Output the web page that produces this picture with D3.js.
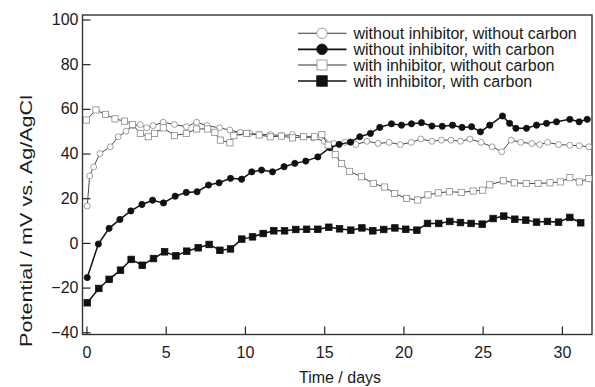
<!DOCTYPE html>
<html>
<head>
<meta charset="utf-8">
<script src="https://cdn.jsdelivr.net/npm/d3@7"></script>
<style>
  html, body { margin: 0; padding: 0; background: #fff; }
  svg text { font-family: "Liberation Sans", Arial, Helvetica, sans-serif; fill: #1a1a1a; }
</style>
</head>
<body>
<svg id="chart" width="595" height="387"></svg>
<script>
// Open-circuit potential over time for four test conditions
const seriesNames = [
  "without inhibitor, without carbon",
  "without inhibitor, with carbon",
  "with inhibitor, without carbon",
  "with inhibitor, with carbon"
];

// [day, potential mV]
const noInhNoCarbon = [
  [0.05,16.5],[0.2,30],[0.45,34],[0.85,40],[1.5,43],[2.0,47.5],[2.5,50],[2.95,52.5],
  [3.4,53],[3.8,51.5],[4.2,52.5],[4.85,54],[5.55,53],[6.3,52],[6.95,54],[7.6,52.5],
  [8.4,51.5],[9.05,50.5],[9.7,49.5],[10.3,49],[10.9,48.5],[11.6,48.5],[12.3,48],
  [13.0,48.5],[13.7,47.5],[14.3,47],[15.0,45.5],[15.6,44.5],[16.3,45],[17.0,44],
  [17.7,45.5],[18.4,44.5],[19.1,45],[19.8,44],[20.5,45],[21.1,46.5],[21.8,45.5],
  [22.4,46],[23.0,46],[23.6,45.5],[24.2,46.5],[24.9,45],[25.6,43],[26.2,40.8],
  [26.8,46],[27.4,45],[28.1,44.5],[28.6,44],[29.1,45],[29.8,44],[30.5,43.7],
  [31.1,43.5],[31.7,43]
];
const noInhCarbon = [
  [0.05,-15.5],[0.75,-0.5],[1.43,6.5],[2.11,10.5],[2.8,14.3],[3.5,17.2],[4.17,19.1],
  [4.86,17.9],[5.6,20.9],[6.3,22.6],[6.98,22.9],[7.7,25.9],[8.37,26.9],[9.09,28.9],
  [9.79,28.5],[10.43,31.8],[11.05,32.6],[11.74,31.8],[12.47,34.1],[13.15,35.6],
  [13.84,36.6],[14.6,38.5],[15.36,42.6],[15.94,44.1],[16.66,45.1],[17.25,47.5],
  [17.92,49.0],[18.51,51.7],[19.25,53.3],[19.88,52.7],[20.51,53.3],[21.14,53.8],
  [21.8,52.3],[22.45,52.2],[23.1,52.7],[23.7,51.7],[24.3,52.0],[24.86,49.7],
  [25.45,52.7],[26.25,56.8],[26.7,53.5],[27.1,51.3],[27.77,51.3],[28.4,52.7],
  [29.03,53.5],[29.66,54.2],[30.5,55.3],[31.09,54.2],[31.6,55.3]
];
const inhNoCarbon = [
  [0.0,55],[0.6,59.5],[1.2,57.5],[1.8,55.5],[2.4,54.5],[2.9,53],[3.4,49],[3.9,47.5],
  [4.3,49],[4.85,51.5],[5.55,48],[6.3,49],[6.95,51],[7.65,51],[8.1,49.5],[8.45,46],
  [9.05,44.8],[9.3,48],[10.1,49],[10.9,48.3],[11.6,47.5],[12.3,47.8],[13.0,47],
  [13.7,47.5],[14.4,47.5],[14.85,48.5],[15.25,43.8],[15.7,39.5],[16.1,35.5],
  [16.6,32],[17.35,29.6],[18.1,26.6],[18.8,25],[19.45,22.1],[20.2,19.9],[20.9,19.2],
  [21.55,21.5],[22.2,22.4],[22.9,22.9],[23.65,22.6],[24.4,23.2],[25.0,23.6],
  [25.45,26],[26.3,27.8],[27.0,26.9],[27.75,26.6],[28.5,26.6],[29.25,26.9],
  [29.9,27.3],[30.5,29.2],[31.1,27.3],[31.7,28.8]
];
const inhCarbon = [
  [0.05,-26.8],[0.78,-20.4],[1.43,-16.3],[2.15,-12.2],[2.82,-7.4],[3.52,-10.0],
  [4.23,-7.0],[4.93,-4.0],[5.64,-5.8],[6.33,-3.7],[7.05,-2.2],[7.74,-0.7],[8.42,-3.3],
  [9.09,-2.7],[9.8,1.7],[10.48,2.7],[11.15,4.2],[11.82,5.4],[12.5,5.4],[13.21,6.0],
  [13.89,6.1],[14.6,6.1],[15.29,7.0],[15.97,6.3],[16.68,5.7],[17.38,6.7],[18.07,5.4],
  [18.76,6.0],[19.46,6.7],[20.15,6.1],[20.85,5.7],[21.52,8.7],[22.23,8.7],[22.93,9.6],
  [23.6,9.1],[24.27,8.7],[24.97,8.4],[25.66,10.9],[26.33,12.0],[27.03,10.6],
  [27.72,10.2],[28.4,9.3],[29.09,9.6],[29.79,9.3],[30.5,11.4],[31.19,9.0]
];

const xTicks = [0, 5, 10, 15, 20, 25, 30];
const yTicks = [-40, -20, 0, 20, 40, 60, 80, 100];

const svg = d3.select("#chart");
const plotLeft = 82.5, plotRight = 592, plotTop = 15, plotBottom = 334.5;

const x = d3.scaleLinear().domain([-0.25, 31.9]).range([plotLeft, plotRight]);
const y = d3.scaleLinear().domain([-41, 102]).range([plotBottom, plotTop]);

// Axes with inward ticks
const yAxis = svg.append("g")
  .attr("transform", `translate(${plotLeft},0)`)
  .call(d3.axisLeft(y).tickValues(yTicks).tickSize(-8).tickPadding(4));
const xAxis = svg.append("g")
  .attr("transform", `translate(0,${plotBottom})`)
  .call(d3.axisBottom(x).tickValues(xTicks).tickSize(-8).tickPadding(12));
[yAxis, xAxis].forEach(g => {
  g.select(".domain").remove();
  g.selectAll(".tick line").attr("stroke", "#222").attr("stroke-width", 1.2);
  g.selectAll(".tick text").attr("font-size", 16).attr("fill", "#1a1a1a")
    .style("font-family", "'Liberation Sans', Arial, sans-serif");
});

// Plot frame
svg.append("rect")
  .attr("x", plotLeft).attr("y", plotTop)
  .attr("width", plotRight - plotLeft).attr("height", plotBottom - plotTop)
  .attr("fill", "none").attr("stroke", "#333").attr("stroke-width", 1.4);

// Axis titles
svg.append("text")
  .attr("x", 340).attr("y", 383)
  .attr("text-anchor", "middle").attr("font-size", 16)
  .text("Time / days");
svg.append("text")
  .attr("transform", "translate(31.5,221) rotate(-90)")
  .attr("text-anchor", "middle").attr("font-size", 16.5)
  .attr("textLength", 252).attr("lengthAdjust", "spacingAndGlyphs")
  .text("Potential / mV vs. Ag/AgCl");

const line = d3.line().x(d => x(d[0])).y(d => y(d[1]));

const styles = [
  { data: noInhNoCarbon, lw: 0.9, lc: "#333", shape: "circle", fill: "#fff", stroke: "#888", size: 3.0, lsize: 5.2 },
  { data: noInhCarbon,   lw: 1.5, lc: "#111", shape: "circle", fill: "#111", stroke: "#111", size: 3.1, lsize: 5.3 },
  { data: inhNoCarbon,   lw: 0.9, lc: "#333", shape: "square", fill: "#fff", stroke: "#888", size: 6.2, lsize: 10 },
  { data: inhCarbon,     lw: 1.5, lc: "#111", shape: "square", fill: "#111", stroke: "#111", size: 6.5, lsize: 10.5 }
];

function drawMarker(g, s, cx, cy, size) {
  if (s.shape === "circle") {
    g.append("circle").attr("cx", cx).attr("cy", cy).attr("r", size)
      .attr("fill", s.fill).attr("stroke", s.stroke).attr("stroke-width", 0.8);
  } else {
    g.append("rect").attr("x", cx - size / 2).attr("y", cy - size / 2)
      .attr("width", size).attr("height", size)
      .attr("fill", s.fill).attr("stroke", s.stroke).attr("stroke-width", 0.8);
  }
}

const plot = svg.append("g");
styles.forEach(s => {
  plot.append("path").datum(s.data)
    .attr("d", line).attr("fill", "none")
    .attr("stroke", s.lc).attr("stroke-width", s.lw);
  const mg = plot.append("g");
  s.data.forEach(d => drawMarker(mg, s, x(d[0]), y(d[1]), s.size));
});

// Legend
const legendRows = [33.3, 49.3, 65, 81];
const legend = svg.append("g");
styles.forEach((s, i) => {
  const ly = legendRows[i];
  legend.append("line").attr("x1", 298).attr("x2", 346.5)
    .attr("y1", ly).attr("y2", ly)
    .attr("stroke", s.lc).attr("stroke-width", s.lw + 0.2);
  drawMarker(legend, s, 322, ly, s.lsize);
  legend.append("text").attr("x", 353.5).attr("y", ly + 5.5)
    .attr("font-size", 16).text(seriesNames[i]);
});
</script>
</body>
</html>
